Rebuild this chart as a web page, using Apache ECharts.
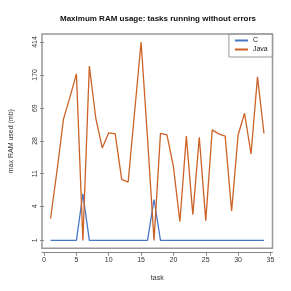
<!DOCTYPE html>
<html>
<head>
<meta charset="utf-8">
<script src="https://cdn.jsdelivr.net/npm/echarts@6/dist/echarts.min.js"></script>
<style>html,body{margin:0;padding:0;background:#fff}#c{width:291px;height:291px}</style>
</head>
<body>
<div id="c"></div>
<script>
var tasks = [1,2,3,4,5,6,7,8,9,10,11,12,13,14,15,16,17,18,19,20,21,22,23,24,25,26,27,28,29,30,31,32,33,34];
var cRam = [1,1,1,1,1,6,1,1,1,1,1,1,1,1,1,1,5,1,1,1,1,1,1,1,1,1,1,1,1,1,1,1,1,1];
var javaRam = [2.6,12,51,93,175,1,216,52,23,35,34,9.3,8.6,62,414,30,1,34.5,33,13.5,2.3,32,3,31,2.4,38,34,32,3.4,33,60,19.4,161,34.5];
var yTickLabels = [1,4,11,28,69,170,414];
var xTickLabels = [0,5,10,15,20,25,30,35];

function tr(v){ return Math.log1p(v); }
function pairs(vals){ return tasks.map(function(t,i){ return [t, tr(vals[i])]; }); }

var all = cRam.concat(javaRam).map(tr);
var tmin = Math.min.apply(null, all), tmax = Math.max.apply(null, all);
var pad = (tmax - tmin) * 0.04;
var xpad = (tasks[tasks.length-1] - tasks[0]) * 0.04;

var chart = echarts.init(document.getElementById('c'), null, {renderer:'canvas'});
chart.setOption({
  animation: false,
  backgroundColor: '#fff',
  title: {
    text: 'Maximum RAM usage: tasks running without errors',
    left: 153, textAlign: 'center', top: 10,
    textStyle: {fontSize: 8, fontWeight: 'bold', color: '#111', fontFamily: 'Liberation Sans'}
  },
  legend: {
    right: 18.3, top: 34, orient: 'vertical',
    itemWidth: 13, itemHeight: 2, itemGap: 2,
    icon: 'rect',
    padding: [3, 5, 4, 6],
    borderColor: '#999', borderWidth: 1,
    textStyle: {fontSize: 7, color: '#222', fontFamily: 'Liberation Sans'},
    data: ['C', 'Java']
  },
  grid: {left: 33.7, right: 18.5, top: 34, bottom: 42.7, show: true, borderColor: '#999', borderWidth: 1.5, backgroundColor: 'transparent'},
  xAxis: {
    type: 'value', min: tasks[0] - xpad, max: tasks[tasks.length-1] + xpad,
    offset: 4,
    name: 'task', nameLocation: 'middle', nameGap: 22,
    nameTextStyle: {fontSize: 7, color: '#333', fontFamily: 'Liberation Sans'},
    axisLine: {show: true, lineStyle: {color: '#888', width: 1}},
    axisTick: {show: true, length: 3.5, customValues: xTickLabels, lineStyle: {color: '#888'}},
    axisLabel: {customValues: xTickLabels, fontSize: 7, color: '#333', margin: 4, fontFamily: 'Liberation Sans'},
    splitLine: {show: false}
  },
  yAxis: {
    type: 'value', min: tmin - pad, max: tmax + pad,
    name: 'max RAM used (mb)', nameLocation: 'middle', nameGap: 27,
    nameTextStyle: {fontSize: 7, color: '#333', fontFamily: 'Liberation Sans'},
    axisLine: {show: false},
    axisTick: {show: true, length: 4, customValues: yTickLabels.map(tr), lineStyle: {color: '#888'}},
    axisLabel: {customValues: yTickLabels.map(tr), rotate: 90, fontSize: 7, color: '#333', margin: 3, fontFamily: 'Liberation Sans',
      formatter: function(v){ return String(Math.round(Math.expm1(v))); }},
    splitLine: {show: false}
  },
  series: [
    {name: 'C', type: 'line', data: pairs(cRam), symbol: 'none', lineStyle: {color: '#4778c8', width: 1.3}, itemStyle: {color: '#4778c8'}},
    {name: 'Java', type: 'line', data: pairs(javaRam), symbol: 'none', lineStyle: {color: '#cc6226', width: 1.3}, itemStyle: {color: '#cc6226'}}
  ]
});
</script>
</body>
</html>
